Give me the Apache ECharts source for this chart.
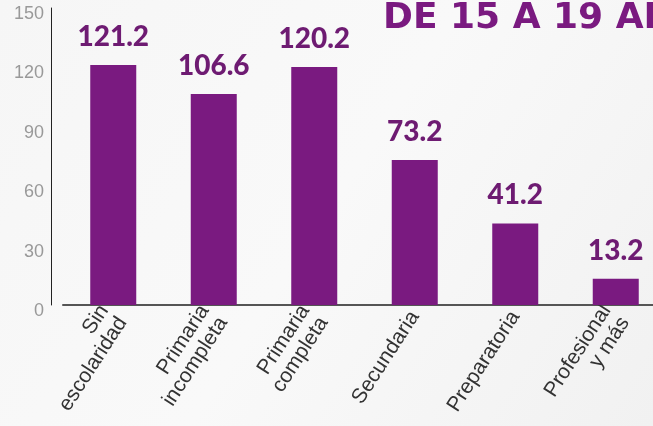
<!DOCTYPE html>
<html>
<head>
<meta charset="utf-8">
<script src="https://cdn.jsdelivr.net/npm/echarts@6/dist/echarts.min.js"></script>
<style>
  html, body { margin: 0; padding: 0; }
  #chart { width: 653px; height: 426px; }
</style>
</head>
<body>
<div id="chart"></div>
<script>
var categories = ['Sin\nescolaridad', 'Primaria\nincompleta', 'Primaria\ncompleta', 'Secundaria', 'Preparatoria', 'Profesional\ny más'];
var values = [121.2, 106.6, 120.2, 73.2, 41.2, 13.2];
var yTicks = [0, 30, 60, 90, 120, 150];

var purple = '#7a1a80';
var myChart = echarts.init(document.getElementById('chart'));

var option = {
    backgroundColor: new echarts.graphic.LinearGradient(0, 0, 1, 1, [
        { offset: 0, color: '#f6f6f6' },
        { offset: 0.5, color: '#f9f9f9' },
        { offset: 1, color: '#f1f1f1' }
    ]),
    animation: false,
    grid: { left: 63, width: 603, top: 8, bottom: 121, outerBoundsMode: 'none', containLabel: false },
    graphic: [{
        type: 'text',
        left: 383,
        top: 1,
        style: {
            text: 'DE 15 A 19 AÑOS',
            fill: purple,
            font: 'bold 36px "DejaVu Sans"'
        }
    }],
    xAxis: {
        type: 'category',
        data: categories,
        axisLine: { lineStyle: { color: '#555', width: 2 } },
        axisTick: { show: false },
        axisLabel: {
            rotate: 57,
            interval: 0,
            color: '#333',
            fontSize: 21,
            fontFamily: 'Liberation Sans',
            lineHeight: 22,
            margin: 8
        }
    },
    yAxis: {
        type: 'value',
        min: yTicks[0],
        max: yTicks[yTicks.length - 1],
        interval: 30,
        offset: 12,
        splitLine: { show: false },
        axisLine: { show: true, lineStyle: { color: '#222', width: 1 } },
        axisTick: { show: false },
        axisLabel: {
            color: '#999',
            fontSize: 18,
            fontFamily: 'Liberation Sans',
            margin: 7,
            verticalAlign: 'top',
            lineHeight: 12
        }
    },
    series: [{
        type: 'bar',
        data: values,
        barWidth: 46,
        itemStyle: { color: purple },
        label: {
            show: true,
            position: 'top',
            distance: 14,
            color: '#6e1b72',
            fontSize: 28,
            fontWeight: 900,
            fontFamily: 'Lato'
        }
    }]
};

myChart.setOption(option);
</script>
</body>
</html>
